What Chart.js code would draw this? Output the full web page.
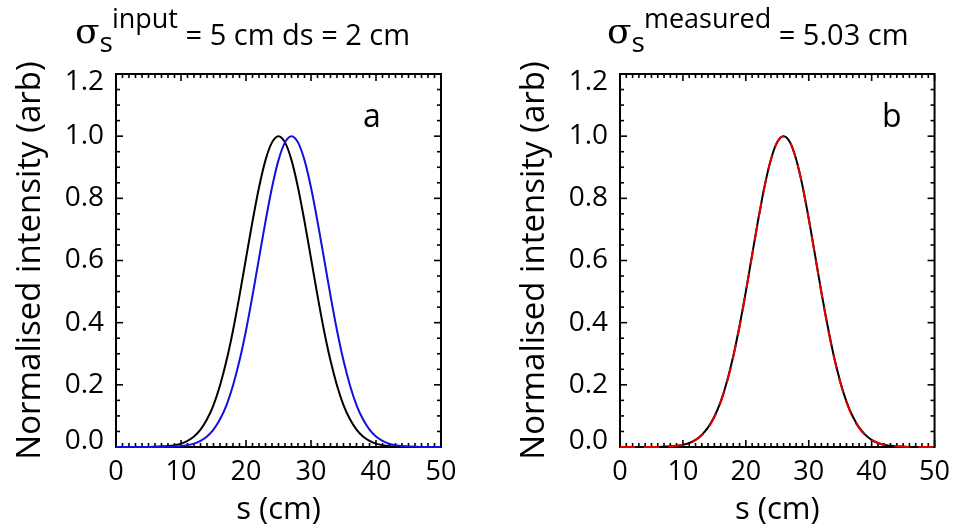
<!DOCTYPE html>
<html>
<head>
<meta charset="utf-8">
<script src="https://cdn.jsdelivr.net/npm/chart.js@4.4.1/dist/chart.umd.min.js"></script>
<style>
  body { margin: 0; background: #fff; width: 959px; height: 531px; overflow: hidden; position: relative; }
  canvas { position: absolute; top: 0; }
</style>
</head>
<body>
<canvas id="grafica_a" width="480" height="531" style="left:0px"></canvas>
<canvas id="grafica_b" width="455" height="531" style="left:504px"></canvas>
<script>
// posiciones s (cm)
const sValores = [0,1,2,3,4,5,6,7,8,9,10,11,12,13,14,15,16,17,18,19,20,21,22,23,24,25,
  26,27,28,29,30,31,32,33,34,35,36,37,38,39,40,41,42,43,44,45,46,47,48,49,50];

// panel a: perfil de entrada (negro) y desplazado ds = 2 cm (azul)
const perfilEntrada = [0,0,0,0,0,0,0.001,0.002,0.003,0.006,0.011,0.020,0.034,0.056,0.089,0.135,
  0.198,0.278,0.375,0.487,0.607,0.726,0.835,0.923,0.980,1.000,0.980,0.923,0.835,0.726,0.607,
  0.487,0.375,0.278,0.198,0.135,0.089,0.056,0.034,0.020,0.011,0.006,0.003,0.002,0.001,0,0,0,0,0,0];
const perfilDesplazado = [0,0,0,0,0,0,0,0,0.001,0.002,0.003,0.006,0.011,0.020,0.034,0.056,0.089,
  0.135,0.198,0.278,0.375,0.487,0.607,0.726,0.835,0.923,0.980,1.000,0.980,0.923,0.835,0.726,
  0.607,0.487,0.375,0.278,0.198,0.135,0.089,0.056,0.034,0.020,0.011,0.006,0.003,0.002,0.001,0,0,0,0];

// panel b: perfil medido (negro) y ajuste (rojo, discontinuo)
const perfilMedido = [0,0,0,0,0,0,0,0.001,0.002,0.004,0.007,0.013,0.023,0.039,0.063,0.098,0.146,
  0.211,0.292,0.390,0.500,0.618,0.735,0.841,0.926,0.981,1.000,0.981,0.926,0.841,0.735,0.618,
  0.500,0.390,0.292,0.211,0.146,0.098,0.063,0.039,0.023,0.013,0.007,0.004,0.002,0.001,0,0,0,0,0];
const perfilAjuste = [0,0,0,0,0,0,0,0.001,0.002,0.004,0.007,0.013,0.022,0.038,0.061,0.096,0.144,
  0.208,0.290,0.387,0.498,0.616,0.733,0.840,0.925,0.981,1.000,0.981,0.925,0.840,0.733,0.616,
  0.498,0.387,0.290,0.208,0.144,0.096,0.061,0.038,0.022,0.013,0.007,0.004,0.002,0.001,0,0,0,0,0];

const xTicks = [0, 10, 20, 30, 40, 50];
const yTicks = [0.0, 0.2, 0.4, 0.6, 0.8, 1.0, 1.2];
const yEtiquetas = ['0.0', '0.2', '0.4', '0.6', '0.8', '1.0', '1.2'];
const xMenor = 1;      // marcas menores en x
const yMenor = 0.05;   // marcas menores en y

const fuente = "'Open Sans', sans-serif";

function puntos(valores) {
  return sValores.map((s, i) => ({ x: s, y: valores[i] }));
}

// marco con marcas hacia dentro en los cuatro lados
const marcoPlugin = {
  id: 'marco',
  beforeDatasetsDraw(chart) {
    const { ctx, chartArea: a, scales: { x, y } } = chart;
    ctx.save();
    ctx.strokeStyle = '#000';
    ctx.lineWidth = 1.6;
    const linea = (x1, y1, x2, y2) => { ctx.beginPath(); ctx.moveTo(x1, y1); ctx.lineTo(x2, y2); ctx.stroke(); };
    const nx = Math.round((x.max - x.min) / xMenor);
    for (let k = 0; k <= nx; k++) {
      const v = x.min + k * xMenor;
      const px = x.getPixelForValue(v);
      const largo = xTicks.includes(v) ? 7 : 4;
      linea(px, a.bottom, px, a.bottom - largo);
      linea(px, a.top, px, a.top + largo);
    }
    const ny = Math.round((y.max - y.min) / yMenor);
    for (let k = 0; k <= ny; k++) {
      const v = y.min + k * yMenor;
      const py = y.getPixelForValue(v);
      const largo = (k % 4 === 0) ? 7 : 4;
      linea(a.left, py, a.left + largo, py);
      linea(a.right, py, a.right - largo, py);
    }
    ctx.lineWidth = 2;
    ctx.strokeRect(a.left, a.top, a.right - a.left, a.bottom - a.top);
    ctx.restore();
  },
  afterDraw(chart, args, opts) {
    const { ctx, chartArea: a } = chart;
    ctx.save();
    ctx.fillStyle = '#000';
    ctx.textBaseline = 'alphabetic';
    // titulo: sigma, subindice s, superindice y resto
    let x = opts.tituloX;
    const base = 45;
    ctx.font = "36px 'DejaVu Serif', serif";
    ctx.fillText('σ', x, base - 2);
    x += ctx.measureText('σ').width;
    ctx.font = '28px ' + fuente;
    ctx.fillText('s', x, base + 7);
    x += ctx.measureText('s').width - 1;
    ctx.font = '27px ' + fuente;
    ctx.fillText(opts.sup, x, base - 17);
    x += ctx.measureText(opts.sup).width;
    ctx.font = '29px ' + fuente;
    ctx.fillText(opts.resto, x, base);
    // letra del panel
    ctx.font = '32px ' + fuente;
    ctx.fillText(opts.letra, a.left + opts.letraX, a.top + 53);
    ctx.restore();
  }
};

// las etiquetas extremas del eje y van algo desplazadas hacia dentro
function etiquetaY(v, i) {
  const t = yEtiquetas[yTicks.indexOf(Math.round(v * 10) / 10)];
  if (i === yTicks.length - 1) return ['', t];
  if (i === 0) return [t, ''];
  return t;
}

function escalas() {
  return {
    x: {
      type: 'linear', min: 0, max: 50,
      afterBuildTicks: s => { s.ticks = xTicks.map(v => ({ value: v })); },
      afterFit: s => { s.height = 84; },
      grid: { display: false, drawTicks: false },
      border: { display: false },
      ticks: { color: '#000', font: { family: fuente, size: 27 }, padding: 9, maxRotation: 0, autoSkip: false },
      title: { display: true, text: 's (cm)', color: '#000', font: { family: fuente, size: 31 }, padding: { bottom: 2 } }
    },
    y: {
      min: 0, max: 1.2,
      afterBuildTicks: s => { s.ticks = yTicks.map(v => ({ value: v })); },
      afterFit: s => { s.width = 116; },
      grid: { display: false, drawTicks: false },
      border: { display: false },
      ticks: {
        color: '#000', padding: 12, callback: etiquetaY,
        font: c => {
          const n = c.index === yTicks.length - 1 ? '16px' : (c.index === 0 ? '12px' : 1.2);
          return { family: fuente, size: 28, lineHeight: n };
        }
      },
      title: { display: true, text: 'Normalised intensity (arb)', color: '#000', font: { family: fuente, size: 33 }, padding: { top: 11 } }
    }
  };
}

function crearGrafica(id, datasets, derecha, marco) {
  return new Chart(document.getElementById(id), {
    type: 'line',
    data: { datasets: datasets },
    options: {
      responsive: false,
      animation: false,
      devicePixelRatio: 1,
      layout: { padding: { top: 74, right: derecha, bottom: 0, left: 0 } },
      elements: { point: { radius: 0 }, line: { borderWidth: 2, cubicInterpolationMode: 'monotone' } },
      plugins: { legend: { display: false }, tooltip: { enabled: false }, marco: marco },
      scales: escalas()
    },
    plugins: [marcoPlugin]
  });
}

crearGrafica('grafica_a', [
  { label: 'ds = 2 cm', data: puntos(perfilDesplazado), borderColor: '#1010e0', clip: false },
  { label: 'input', data: puntos(perfilEntrada), borderColor: '#000', clip: false }
], 39, { tituloX: 75, sup: 'input', resto: ' = 5 cm ds = 2 cm', letra: 'a', letraX: 247 });

crearGrafica('grafica_b', [
  { label: 'fit', data: puntos(perfilAjuste), borderColor: '#e00000', borderDash: [15, 9], clip: false },
  { label: 'measured', data: puntos(perfilMedido), borderColor: '#000', clip: false }
], 14, { tituloX: 103, sup: 'measured', resto: ' = 5.03 cm', letra: 'b', letraX: 262 });
</script>
</body>
</html>
